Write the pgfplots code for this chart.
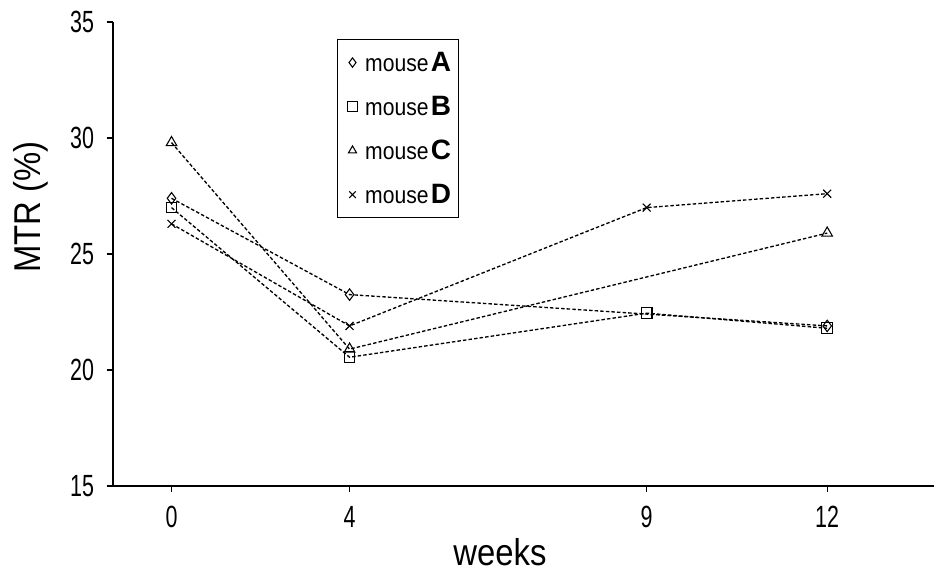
\documentclass[border=0pt]{standalone}
\usepackage{fontspec}
\setmainfont{Liberation Sans}
\newfontfamily\ticknarrow[FakeStretch=0.7]{Liberation Sans}
\newfontfamily\labelnarrow[FakeStretch=0.88]{Liberation Sans}
\usepackage{pgfplots}
\usepackage{pgfplotstable}
\pgfplotsset{compat=1.18}

% pos = place on the axis (the weeks are not evenly spaced in the original)
\pgfplotstableread{
pos    week A     B     C    D
0      0    27.4  27.0  29.8 26.3
4      4    23.25 20.55 20.9 21.9
10.674 9    nan   22.45 nan  27.0
14.73  12   21.9  21.8  25.9 27.6
}\mtr

\newcommand{\legentry}[1]{\hspace{5pt}{\fontsize{18}{18}\selectfont mouse}\,{\rmfamily\bfseries\fontsize{21}{21}\selectfont #1}}

\begin{document}
\begin{tikzpicture}
\begin{axis}[
  scale only axis,
  width=615.75pt, height=348pt,
  xmin=-1.315, xmax=17.13,
  ymin=15, ymax=35,
  axis x line*=bottom, axis y line*=left,
  axis line style={line width=1pt},
  xtick={0,4,10.674,14.73}, xticklabels={0,4,9,12},
  ytick={15,20,25,30,35},
  tick align=outside, major tick length=4.5pt,
  tick style={black, line width=0.8pt},
  /pgf/number format/assume math mode=true,
  ticklabel style={font=\ticknarrow\fontsize{23}{23}\selectfont, inner sep=0pt},
  xticklabel style={anchor=north, yshift=-10.5pt},
  yticklabel style={anchor=east, xshift=-9.5pt},
  every axis plot/.append style={black, line width=1pt, dash pattern=on 2.6pt off 1.6pt,
    mark options={solid, fill=white, line width=0.8pt}},
  legend image code/.code={\path (0,0); \draw[#1, mark size=3.5pt] plot coordinates {(0.22cm,0cm)};},
  legend style={at={(rel axis cs:0.2728,0.9625)}, anchor=north west,
    draw=black, line width=0.8pt, fill=white,
    font=\labelnarrow, inner xsep=4.5pt, inner ysep=8pt, row sep=15pt,
    nodes={inner sep=1pt}},
  legend cell align=left,
]
\addplot[mark=diamond, mark size=4.3pt] table[x=pos, y=A] {\mtr};
\addplot[mark=square, mark size=4pt] table[x=pos, y=B] {\mtr};
\addplot[mark=triangle, mark size=4.6pt] table[x=pos, y=C] {\mtr};
\addplot[mark=x, mark size=4.2pt] table[x=pos, y=D] {\mtr};
\legend{\legentry{A}, \legentry{B}, \legentry{C}, \legentry{D}}
\coordinate (BL) at (rel axis cs:0,0);
\coordinate (TR) at (rel axis cs:1,1);
\coordinate (XL) at (rel axis cs:0.4714,0);
\coordinate (YL) at (rel axis cs:0,0.601);
\end{axis}
\draw[line width=1pt] ([xshift=-4pt]BL) -- (BL);
\node[font=\labelnarrow\fontsize{28}{28}\selectfont, anchor=base]
  at ([yshift=-59.6pt]XL) {weeks};
\node[font=\labelnarrow\fontsize{28}{28}\selectfont, rotate=90, anchor=center]
  at ([xshift=-61.5pt]YL) {MTR (\%)};
\pgfresetboundingbox
\path ([shift={(-84.75pt,-64.5pt)}]BL) rectangle ([shift={(0pt,16.5pt)}]TR);
\end{tikzpicture}
\end{document}
